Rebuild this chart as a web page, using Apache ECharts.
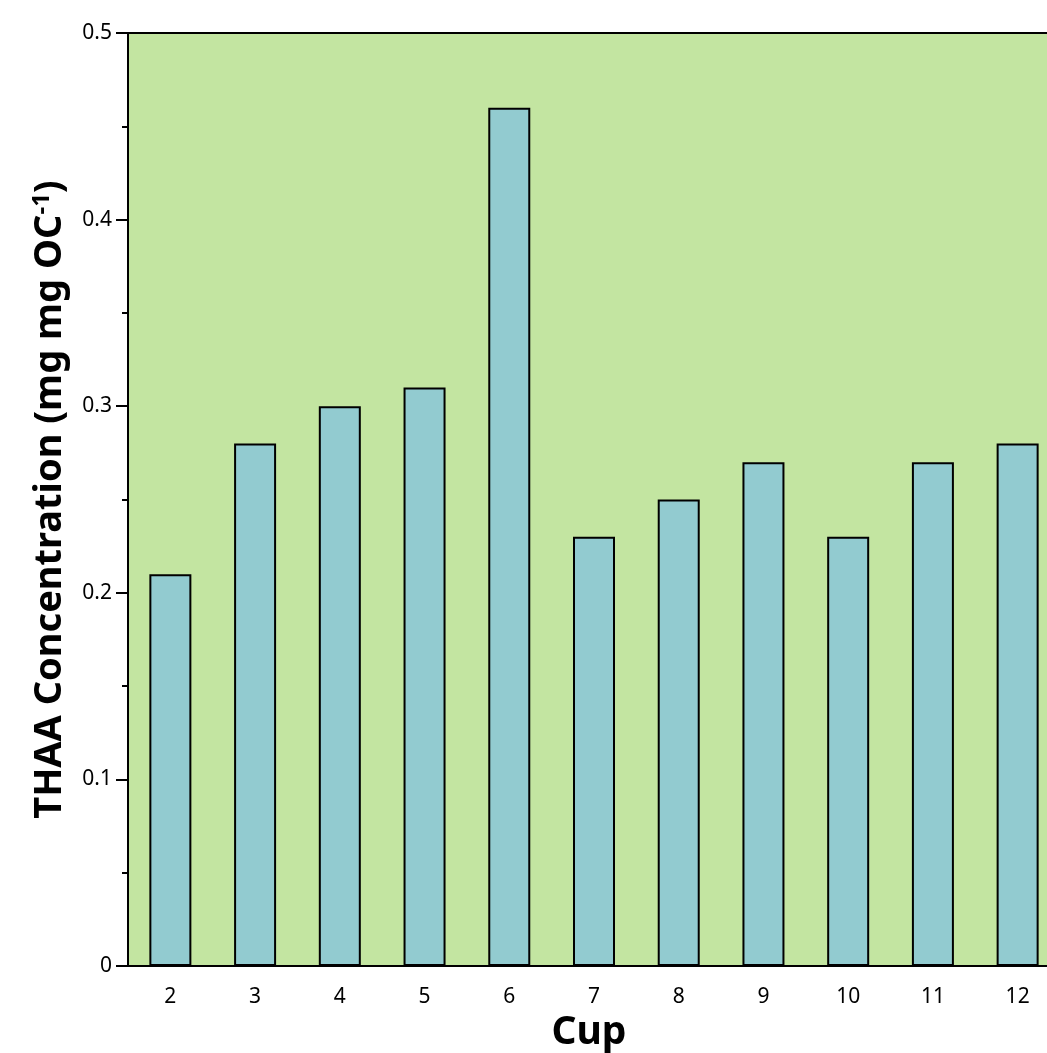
<html lang="en">
<head>
    <meta charset="UTF-8">
    <title>THAA Concentration by Cup</title>
    <script src="https://cdn.jsdelivr.net/npm/echarts@6/dist/echarts.min.js"></script>
    <style>
        body { margin: 0; overflow: hidden; background: #fff; }
    </style>
</head>
<body>
    <!-- plot runs a little past the right edge of the picture, like the reference -->
    <div id="main" style="width: 1060px;height:1053px;"></div>
    <script type="text/javascript">
        var cups = ['2', '3', '4', '5', '6', '7', '8', '9', '10', '11', '12'];
        var thaa = [0.21, 0.28, 0.30, 0.31, 0.46, 0.23, 0.25, 0.27, 0.23, 0.27, 0.28];

        var myChart = echarts.init(document.getElementById('main'));
        var font = 'Noto Sans';

        var option = {
            animation: false,
            grid: {
                left: 128, right: 0, top: 33, bottom: 87,
                outerBoundsMode: 'none',
                show: true,
                backgroundColor: '#c3e5a1',
                borderColor: '#000',
                borderWidth: 2
            },
            xAxis: {
                type: 'category',
                data: cups,
                name: 'Cup',
                nameLocation: 'middle',
                nameGap: 34,
                nameTextStyle: {
                    fontFamily: font, fontSize: 39, fontWeight: 'bold', color: '#000',
                    verticalAlign: 'top', padding: [0, 10, 0, 0]
                },
                axisLine: { lineStyle: { color: '#000', width: 2 } },
                axisTick: { alignWithLabel: true, length: 12, lineStyle: { color: '#000', width: 2 } },
                axisLabel: { fontFamily: font, fontSize: 21, color: '#000', margin: 21 }
            },
            yAxis: {
                type: 'value',
                min: 0, max: 0.5, interval: 0.1,
                name: 'THAA Concentration (mg mg OC{sup|-1})',
                nameLocation: 'middle',
                nameGap: 58,
                nameTextStyle: {
                    fontFamily: font, fontSize: 38, fontWeight: 'bold', color: '#000',
                    rich: {
                        sup: { fontFamily: font, fontSize: 24, fontWeight: 'bold', color: '#000', verticalAlign: 'top', padding: [0, 0, 16, 0] }
                    }
                },
                axisLine: { show: true, lineStyle: { color: '#000', width: 2 } },
                axisTick: { show: true, length: 12, lineStyle: { color: '#000', width: 2 } },
                minorTick: { show: true, splitNumber: 2, length: 6, lineStyle: { color: '#000', width: 2 } },
                splitLine: { show: false },
                axisLabel: {
                    fontFamily: font, fontSize: 21, color: '#000', margin: 16,
                    formatter: function (v) { return v === 0 ? '0' : v.toFixed(1); }
                }
            },
            series: [{
                type: 'bar',
                data: thaa,
                barWidth: 42,
                itemStyle: { color: '#92cbd0', borderColor: '#000', borderWidth: 2 }
            }]
        };
        myChart.setOption(option);
    </script>
</body>
</html>
